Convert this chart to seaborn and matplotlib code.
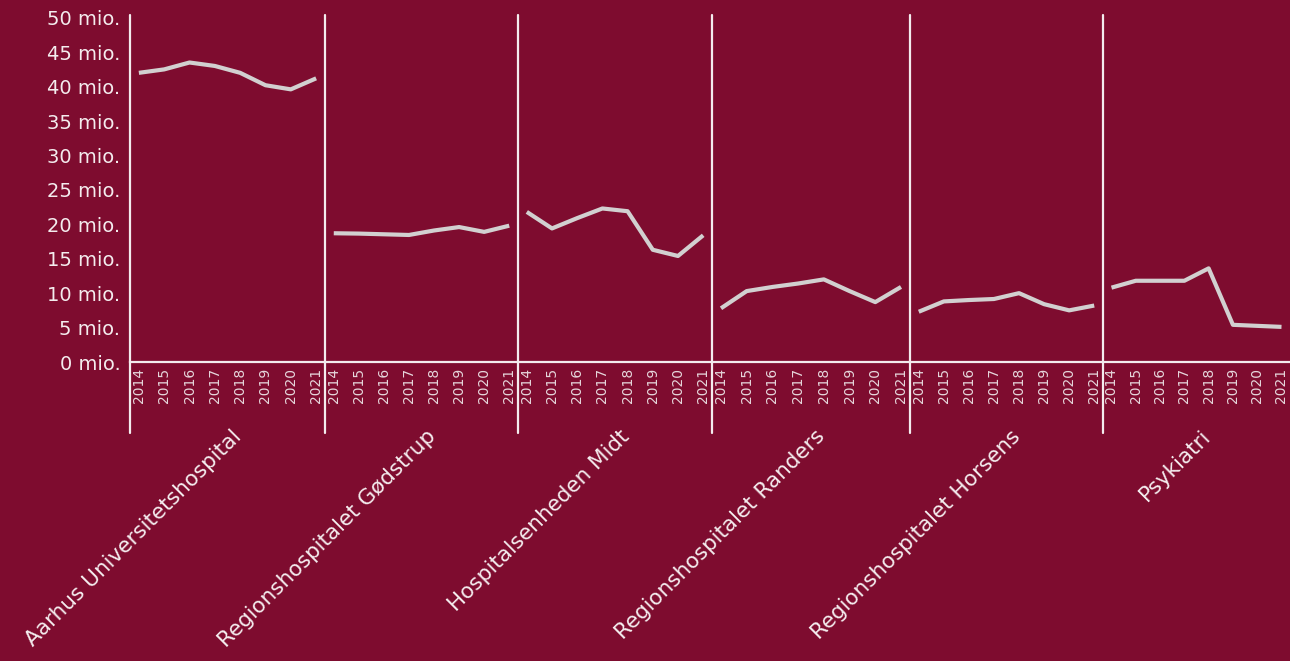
import matplotlib.pyplot as plt
import seaborn as sns
import pandas as pd

# data (mio. kr.)
years = [2014, 2015, 2016, 2017, 2018, 2019, 2020, 2021]
hospitals = ["Aarhus Universitetshospital", "Regionshospitalet Gødstrup",
             "Hospitalsenheden Midt", "Regionshospitalet Randers",
             "Regionshospitalet Horsens", "Psykiatri"]
auh = [42.0, 42.5, 43.5, 43.0, 42.0, 40.2, 39.6, 41.2]
goedstrup = [18.7, 18.65, 18.55, 18.45, 19.1, 19.6, 18.9, 19.8]
midt = [21.8, 19.4, 20.9, 22.3, 21.9, 16.3, 15.4, 18.4]
randers = [7.8, 10.3, 10.9, 11.4, 12.0, 10.3, 8.7, 10.9]
horsens = [7.3, 8.8, 9.0, 9.15, 10.0, 8.4, 7.5, 8.2]
psykiatri = [10.8, 11.8, 11.8, 11.8, 13.6, 5.4, 5.25, 5.1]
y_ticks = [0, 5, 10, 15, 20, 25, 30, 35, 40, 45, 50]

series = [auh, goedstrup, midt, randers, horsens, psykiatri]
df = pd.DataFrame([
    {"hospital": h, "year": y, "value": v}
    for h, vals in zip(hospitals, series)
    for y, v in zip(years, vals)
])

bg = "#7e0c2f"
fg = "#f4ecee"
line_col = "#d2d0d0"

sns.set_theme(style="white")
plt.rcParams["font.family"] = ["DejaVu Sans"]

fig, axes = plt.subplots(1, 6, figsize=(12.9, 6.61), dpi=100, sharey=True,
                         gridspec_kw={"width_ratios": [195, 193, 194, 198, 193, 187]})
fig.patch.set_facecolor(bg)
fig.subplots_adjust(left=130 / 1290, right=1.0, bottom=1 - 362 / 661,
                    top=1 - 15 / 661, wspace=0)

for i, (ax, name) in enumerate(zip(axes, hospitals)):
    sub = df[df["hospital"] == name]
    sns.lineplot(data=sub, x="year", y="value", ax=ax, color=line_col,
                 linewidth=3, solid_capstyle="butt")
    ax.set_facecolor(bg)
    ax.set_xlim(2013.65, 2021.35)
    ax.set_ylim(0, 50.4)
    ax.set_xlabel("")
    ax.set_ylabel("")
    for s in ["top", "right", "left"]:
        ax.spines[s].set_visible(False)
    ax.spines["bottom"].set_color(fg)
    ax.spines["bottom"].set_linewidth(1.6)
    # panel separator, running down into the label area
    ax.axvline(2013.65, ymin=-0.205, ymax=1, color=fg, lw=1.6, clip_on=False)
    ax.set_xticks(years)
    ax.set_xticklabels([str(y) for y in years], rotation=90, fontsize=10,
                       color="#e6d6db")
    ax.tick_params(axis="x", length=0, pad=4)
    ax.tick_params(axis="y", length=0, pad=7)
    ax.set_yticks(y_ticks)
    if i == 0:
        ax.set_yticklabels([f"{t} mio." for t in y_ticks], fontsize=14, color=fg)
    ax.text(0.52, -0.185, name, transform=ax.transAxes, rotation=45,
            ha="right", va="top", rotation_mode="anchor", fontsize=15.5, color=fg)

fig.savefig("out.png", facecolor=bg)
